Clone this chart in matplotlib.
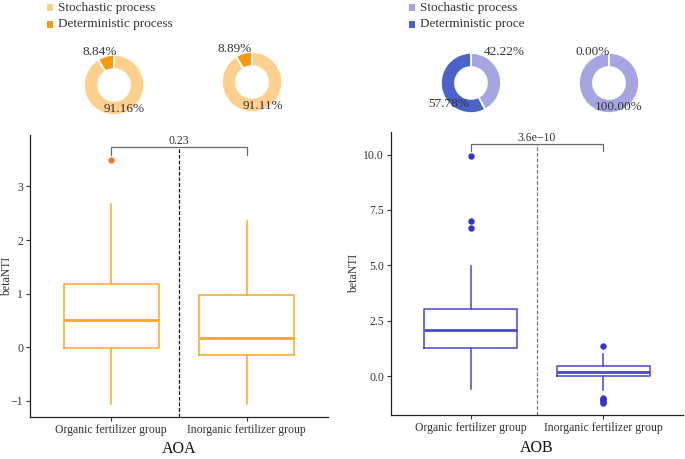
import matplotlib
matplotlib.use("Agg")
import matplotlib.pyplot as plt
from matplotlib.patches import Rectangle

plt.rcParams['font.family'] = ['Liberation Serif', 'DejaVu Serif']

# ---------------- data ----------------
groups = ["Organic fertilizer group", "Inorganic fertilizer group"]
process_labels = ["Stochastic process", "Deterministic process"]

aoa_pie_organic = [91.16, 8.84]
aoa_pie_inorganic = [91.11, 8.89]
aob_pie_organic = [42.22, 57.78]
aob_pie_inorganic = [100.00, 0.00]

aoa_med = [0.50, 0.18]
aoa_q1 = [-0.02, -0.14]
aoa_q3 = [1.19, 0.98]
aoa_whislo = [-1.06, -1.06]
aoa_whishi = [2.68, 2.36]
aoa_fliers = [[3.49], []]
aoa_p = "0.23"

aob_med = [2.09, 0.19]
aob_q1 = [1.28, 0.00]
aob_q3 = [3.04, 0.44]
aob_whislo = [-0.60, -0.65]
aob_whishi = [4.97, 0.98]
aob_fliers = [[9.93, 7.00, 6.68], [1.35, -0.98, -1.04, -1.10, -1.16, -1.22]]
aob_p = "3.6e\u221210"

# ---------------- figure ----------------
W, H = 685, 459
fig = plt.figure(figsize=(W / 100, H / 100), dpi=100)


def px_axes(x0, y0, x1, y1):
    return fig.add_axes([x0 / W, 1 - y1 / H, (x1 - x0) / W, (y1 - y0) / H])


TXT = "#333333"

# ---------------- box plots ----------------
def boxpanel(ax, med, q1, q3, lo, hi, fliers, color, fcolor, vcolor, ylim, yticks,
             yticklabels, pval, bracket_y, leg_y, title, ylab_x):
    stats = []
    for i in range(2):
        stats.append(dict(med=med[i], q1=q1[i], q3=q3[i], whislo=lo[i], whishi=hi[i],
                          fliers=fliers[i], label=groups[i]))
    ax.bxp(stats, positions=[1, 2], widths=0.7, showcaps=False, patch_artist=False,
           boxprops=dict(color=color, lw=1.1),
           whiskerprops=dict(color=color, lw=1.1),
           medianprops=dict(color=color, lw=2.0),
           flierprops=dict(marker='o', markersize=3.6, markerfacecolor=fcolor,
                           markeredgecolor=fcolor))
    ax.set_xlim(0.4, 2.6)
    ax.set_ylim(*ylim)
    ax.set_yticks(yticks)
    ax.set_yticklabels(yticklabels)
    ax.set_xticks([1, 2])
    ax.set_xticklabels(groups)
    for s in ['top', 'right']:
        ax.spines[s].set_visible(False)
    for s in ['left', 'bottom']:
        ax.spines[s].set_color('#222222')
        ax.spines[s].set_linewidth(0.9)
    ax.tick_params(axis='both', labelsize=8.5, colors='#333333', length=3, width=0.8,
                   pad=2, labelcolor=TXT)
    ax.set_ylabel("betaNTI", fontsize=8.5, color=TXT)
    ax.yaxis.set_label_coords(ylab_x, 0.5)
    ax.yaxis.label.set_horizontalalignment('center')
    ax.set_xlabel(title, fontsize=11.5, color='#111111')
    ax.xaxis.set_label_coords(0.5, -0.115)
    ax.xaxis.label.set_verticalalignment('center')
    # dashed separator
    ax.plot([1.5, 1.5], [ylim[0], bracket_y], ls=(0, (3, 1.5)), color=vcolor, lw=0.9)
    # significance bracket
    ax.plot([1, 1, 2, 2], [leg_y, bracket_y, bracket_y, leg_y], color='#6b6b6b', lw=0.9)
    ax.text(1.5, bracket_y, pval, ha='center', va='bottom', fontsize=8.5, color=TXT)


ax1 = px_axes(30, 135, 328, 417)
boxpanel(ax1, aoa_med, aoa_q1, aoa_q3, aoa_whislo, aoa_whishi, aoa_fliers,
         "#F6A82A", "#F07A3A", "#111111", (-1.30, 3.96), [-1, 0, 1, 2, 3],
         ["\u22121", "0", "1", "2", "3"], aoa_p, 3.735, 3.59, "AOA", -0.058)

ax2 = px_axes(391, 132, 683, 415)
boxpanel(ax2, aob_med, aob_q1, aob_q3, aob_whislo, aob_whishi, aob_fliers,
         "#4646D8", "#3434CC", "#777777", (-1.76, 11.02), [0, 2.5, 5, 7.5, 10],
         ["0.0", "2.5", "5.0", "7.5", "10.0"], aob_p, 10.5, 10.17, "AOB", -0.105)

# ---------------- donuts ----------------
def donut(cx, cy, vals, colors, lab_off):
    r = 37
    ax = px_axes(cx - r, cy - r, cx + r, cy + r)
    ax.pie(vals, colors=colors, startangle=90, counterclock=False,
           wedgeprops=dict(width=0.47, edgecolor='white', linewidth=1.3))
    ax.set_xlim(-1.23, 1.23)
    ax.set_ylim(-1.23, 1.23)
    ax.set_aspect('equal')
    ax.axis('off')
    scale = 1.23 / r
    for v, (dx, dy) in zip(vals, lab_off):
        ax.text(dx * scale, dy * scale, f"{v:.2f}%", ha='center', va='center',
                fontsize=9.5, color=TXT, clip_on=False)


aoa_cols = ["#FFD08D", "#F89A0C"]
aob_cols = ["#A5A5E2", "#4B63C9"]

donut(114, 85, aoa_pie_organic, aoa_cols, [(10, -24), (-14, 33)])
donut(252, 82, aoa_pie_inorganic, aoa_cols, [(11, -24), (-17, 33)])
donut(471, 83, aob_pie_organic, aob_cols, [(33, 31), (-22, -21)])
donut(609, 83, aob_pie_inorganic, aob_cols, [(10, -24), (-16, 31)])

# ---------------- legends ----------------
def legend(x0, x1, cols):
    ax = px_axes(x0, 0, x1, 34)
    ax.set_xlim(0, x1 - x0)
    ax.set_ylim(34, 0)
    ax.axis('off')
    for i, (lab, c) in enumerate(zip(process_labels, cols)):
        yc = 7.5 + 16.8 * i
        ax.add_patch(Rectangle((7, yc - 3.2), 6.2, 6.4, facecolor=c, edgecolor='none'))
        ax.text(17.5, yc, lab, ha='left', va='center', fontsize=9.5, color=TXT,
                clip_on=True)


legend(40, 330, aoa_cols)
legend(402, 525, aob_cols)

fig.savefig("out.png", dpi=100)
